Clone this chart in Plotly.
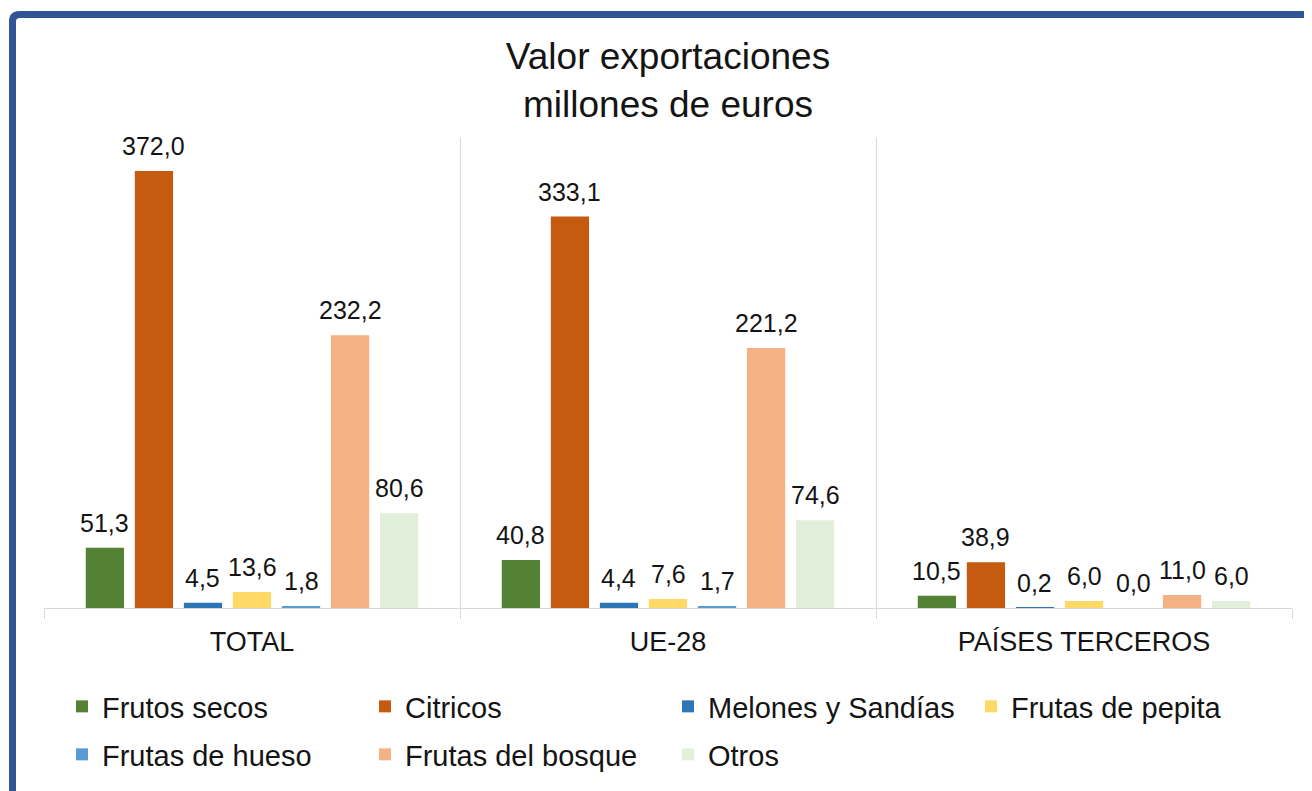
import plotly.graph_objects as go

categories = ["TOTAL", "UE-28", "PAÍSES TERCEROS"]
series_names = ["Frutos secos", "Citricos", "Melones y Sandías", "Frutas de pepita",
                "Frutas de hueso", "Frutas del bosque", "Otros"]
frutos_secos = [51.3, 40.8, 10.5]
citricos = [372.0, 333.1, 38.9]
melones = [4.5, 4.4, 0.2]
pepita = [13.6, 7.6, 6.0]
hueso = [1.8, 1.7, 0.0]
bosque = [232.2, 221.2, 11.0]
otros = [80.6, 74.6, 6.0]
series_values = [frutos_secos, citricos, melones, pepita, hueso, bosque, otros]
colors = ["#548235", "#C55A11", "#2E75B6", "#FFD966", "#5B9BD5", "#F4B183", "#E2EFDA"]
legend_rows = ["legend", "legend", "legend", "legend", "legend2", "legend2", "legend2"]

FONT = "Liberation Sans, Arial, sans-serif"
TXT = "#141414"

# page offset (body margin) and layout in page pixels
OFF = 8
W, H = 1312, 791
L, R, T, B = 36, 28, 130, 191
pw, ph = W - L - R, H - T - B
BARGAP, GROUPGAP = 0.175, 0.22
n_series = len(series_names)
slot = (pw / len(categories)) * (1 - BARGAP) / n_series


def px_x(p):
    return (p - OFF - L) / pw


def px_y(p):
    return (H - B - (p - OFF)) / ph


fig = go.Figure()
annotations = []
for i, (name, vals, col, lg) in enumerate(zip(series_names, series_values, colors, legend_rows)):
    fig.add_trace(go.Bar(
        x=categories, y=vals, name=name, legend=lg,
        marker=dict(color=col, line=dict(width=0)),
    ))
    for c, v in zip(categories, vals):
        annotations.append(dict(
            x=c, y=v, xref="x", yref="y", text=f"{v:.1f}".replace(".", ","),
            showarrow=False, xanchor="center", yanchor="bottom",
            xshift=(i - (n_series - 1) / 2) * slot, yshift=9,
            font=dict(size=25, color=TXT, family=FONT),
        ))

legend_common = dict(orientation="h", xanchor="left", yanchor="top",
                     entrywidth=258, entrywidthmode="pixels",
                     font=dict(size=29, color=TXT, family=FONT), traceorder="normal",
                     bgcolor="rgba(0,0,0,0)")

bx, by, br = px_x(12.5), px_y(14.5), 7
fig.update_layout(
    width=W, height=H,
    margin=dict(l=L, r=R, t=T, b=B, autoexpand=False),
    paper_bgcolor="white", plot_bgcolor="white",
    barmode="group", bargap=BARGAP, bargroupgap=GROUPGAP,
    font=dict(family=FONT, color=TXT),
    title=dict(text="Valor exportaciones<br>millones de euros",
               x=0.5, xref="paper", xanchor="center",
               y=1 - 61 / H, yref="container", yanchor="top",
               font=dict(size=37, color=TXT, family=FONT)),
    xaxis=dict(tickson="boundaries", showgrid=True, gridcolor="#D9D9D9", gridwidth=1,
               showline=True, linecolor="#D9D9D9", linewidth=1,
               ticks="outside", ticklen=10, tickcolor="#D9D9D9",
               ticklabelstandoff=10,
               tickfont=dict(size=27, color=TXT, family=FONT)),
    yaxis=dict(range=[0, 400], visible=False, showgrid=False),
    legend=dict(x=px_x(62), y=px_y(681), **legend_common),
    legend2=dict(x=px_x(62), y=px_y(729), **legend_common),
    showlegend=True,
    annotations=annotations,
    shapes=[dict(type="path", xref="paper", yref="paper",
                 path=(f"M {bx} {px_y(820)} L {bx} {px_y(14.5 + br)} "
                       f"Q {bx} {by} {px_x(12.5 + br)} {by} L {px_x(1340)} {by}"),
                 line=dict(color="#2F5597", width=7))],
)

fig.write_html("out.html")
